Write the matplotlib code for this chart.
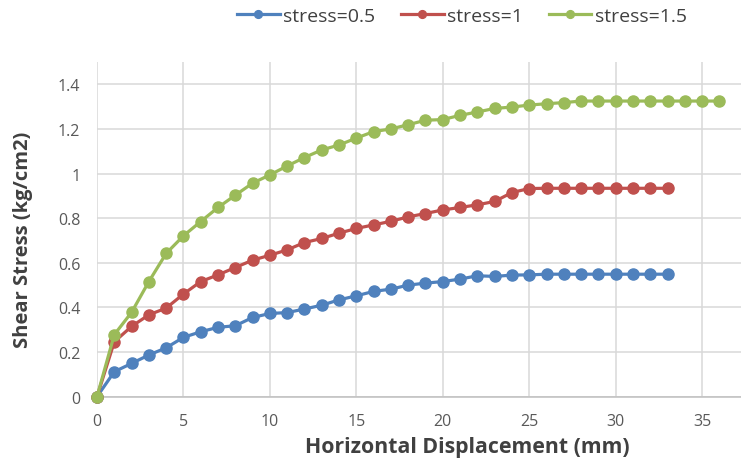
import matplotlib
matplotlib.use("Agg")
import matplotlib.pyplot as plt

x_short = list(range(0, 34))
x_long = list(range(0, 37))

stress_05 = [0, 0.112, 0.149, 0.187, 0.219, 0.266, 0.291, 0.311, 0.318, 0.355, 0.373, 0.377,
             0.393, 0.410, 0.434, 0.452, 0.472, 0.482, 0.500, 0.509, 0.516, 0.527, 0.542, 0.539,
             0.545, 0.546, 0.549, 0.549, 0.549, 0.549, 0.549, 0.549, 0.549, 0.549]
stress_1 = [0, 0.246, 0.315, 0.367, 0.397, 0.460, 0.516, 0.546, 0.579, 0.612, 0.634, 0.658,
            0.691, 0.709, 0.733, 0.754, 0.770, 0.786, 0.806, 0.821, 0.837, 0.848, 0.860, 0.875,
            0.915, 0.933, 0.934, 0.934, 0.934, 0.934, 0.934, 0.934, 0.934, 0.934]
stress_15 = [0, 0.278, 0.378, 0.516, 0.642, 0.721, 0.785, 0.848, 0.903, 0.957, 0.994, 1.034,
             1.072, 1.106, 1.128, 1.159, 1.188, 1.200, 1.219, 1.239, 1.242, 1.261, 1.276, 1.292,
             1.298, 1.307, 1.313, 1.318, 1.325, 1.325, 1.325, 1.325, 1.325, 1.325, 1.325, 1.325, 1.325]

labels = ["stress=0.5", "stress=1", "stress=1.5"]
colors = ["#4F81BD", "#C0504D", "#9BBB59"]
x_ticks = [0, 5, 10, 15, 20, 25, 30, 35]
y_ticks = [0, 0.2, 0.4, 0.6, 0.8, 1.0, 1.2, 1.4]
y_tick_labels = ["0", "0.2", "0.4", "0.6", "0.8", "1", "1.2", "1.4"]

plt.rcParams['font.family'] = ['Open Sans', 'DejaVu Sans']

fig = plt.figure(figsize=(7.41, 4.64), dpi=100)
ax = fig.add_axes([97 / 741, 1 - 397.7 / 464, 1 - 97 / 741, (397.7 - 63) / 464])

series = [(x_short, stress_05), (x_short, stress_1), (x_long, stress_15)]
handles = []
for (xs, ys), lab, c in zip(series, labels, colors):
    h, = ax.plot(xs, ys, color=c, lw=2.3, marker='o', markersize=8, label=lab,
                 clip_on=False, zorder=3)
    handles.append(h)

ax.set_xlim(0, 37.25)
ax.set_ylim(0, 1.5)
ax.set_xticks(x_ticks)
ax.set_yticks(y_ticks)
ax.set_yticklabels(y_tick_labels)
ax.grid(True, color="#D9D9D9", lw=1.1)
ax.set_axisbelow(True)
for s in ["top", "right", "left"]:
    ax.spines[s].set_visible(False)
ax.spines["bottom"].set_color("#BFBFBF")
ax.spines["bottom"].set_linewidth(1.1)
ax.tick_params(length=0, labelsize=11.5, labelcolor="#595959")
ax.tick_params(axis='x', pad=12)
ax.tick_params(axis='y', pad=12)

fig.text(467.5 / 741, 1 - 448 / 464, "Horizontal Displacement (mm)", ha='center', va='center',
         fontsize=15.3, fontweight='bold', color="#404040")
fig.text(23 / 741, 1 - 240 / 464, "Shear Stress (kg/cm2)", ha='center', va='center',
         rotation=90, fontsize=14.5, fontweight='bold', color="#404040")

leg = fig.legend(handles=handles, labels=labels, loc='center', bbox_to_anchor=(462 / 741, 1 - 17 / 464),
                 ncol=3, frameon=False, fontsize=14, handlelength=2.2, handletextpad=0.2,
                 columnspacing=1.3, markerscale=0.7)
for t in leg.get_texts():
    t.set_color("#404040")

fig.savefig("out.png", dpi=100)
